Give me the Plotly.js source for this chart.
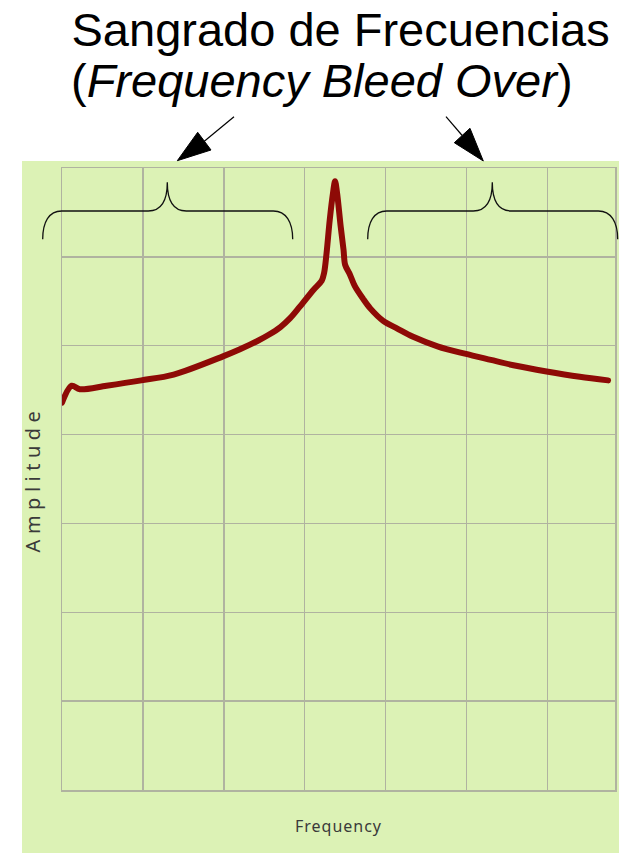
<!DOCTYPE html>
<html>
<head>
<meta charset="utf-8">
<script src="https://cdn.plot.ly/plotly-3.0.1.min.js"></script>
<style>
  html, body { margin: 0; padding: 0; background: #ffffff; }
  #chart { width: 637px; height: 853px; }
  .ytitle { letter-spacing: 5.5px; }
  .xtitle { letter-spacing: 1px; }
  .scatterlayer .js-line { stroke-linecap: round; stroke-linejoin: round; }
</style>
</head>
<body>
<div id="chart"></div>
<script>
// ---- data ----
const frequency = [0, 0.12, 0.22, 0.55, 0.98, 1.38, 1.99, 2.20, 2.41, 2.55, 2.70, 2.82, 2.94, 3.11, 3.21, 3.24, 3.27, 3.31, 3.35, 3.375, 3.40, 3.445, 3.48, 3.50, 3.56, 3.62, 3.72, 3.81, 3.97, 4.15, 4.34, 4.65, 4.98, 5.30, 5.58, 5.99, 6.40, 6.75];
const amplitude = [4.36, 4.55, 4.51, 4.55, 4.61, 4.675, 4.88, 4.96, 5.05, 5.12, 5.21, 5.31, 5.44, 5.63, 5.73, 5.82, 6.04, 6.42, 6.72, 6.85, 6.72, 6.34, 6.08, 5.91, 5.80, 5.67, 5.53, 5.42, 5.28, 5.19, 5.10, 4.99, 4.91, 4.84, 4.78, 4.71, 4.65, 4.61];

const titleLine1 = 'Sangrado de Frecuencias';
const titleLine2 = '(<i>Frequency Bleed Over</i>)';
const xTitle = 'Frequency';
const yTitle = 'Amplitude';

// ---- layout geometry (pixels) ----
const FIG_W = 637, FIG_H = 853;
const M = { l: 62, r: 22, t: 168, b: 63 };
const PW = FIG_W - M.l - M.r, PH = FIG_H - M.t - M.b;
const X_RANGE = [0, PW / 80.9];
const Y_RANGE = [0, 7];

// pixel -> paper helpers for decorations
const px = p => (p - M.l) / PW;
const py = p => (M.t + PH - p) / PH;
function path(cmds) {
  return cmds.map(c => {
    const op = c[0], pts = c.slice(1);
    const out = [];
    for (let i = 0; i < pts.length; i += 2) out.push(px(pts[i]).toFixed(5) + ',' + py(pts[i + 1]).toFixed(5));
    return op + out.join(' ');
  }).join(' ') ;
}
function brace(x0) {
  const d = x0 - 42.7;
  const X = v => v + d;
  return path([
    ['M', X(42.7), 239.3],
    ['C', X(42.7), 222, X(49), 211, X(61.7), 211],
    ['L', X(148.3), 211],
    ['C', X(160), 211, X(167.3), 203, X(167.3), 182.3],
    ['C', X(167.3), 203, X(174.6), 211, X(186.3), 211],
    ['L', X(273.3), 211],
    ['C', X(286), 211, X(292.7), 222, X(292.7), 239.3]
  ]);
}
const shapes = [
  // light green panel
  { type: 'rect', xref: 'paper', yref: 'paper', layer: 'below',
    x0: px(22), x1: px(619), y0: py(853), y1: py(161),
    fillcolor: '#dcf2b5', line: { width: 0 } },
  // braces
  { type: 'path', xref: 'paper', yref: 'paper', path: brace(42.7), line: { color: '#111111', width: 1.3 } },
  { type: 'path', xref: 'paper', yref: 'paper', path: brace(367.7), line: { color: '#111111', width: 1.3 } },
  // left arrow
  { type: 'line', xref: 'paper', yref: 'paper', x0: px(234), y0: py(116.7), x1: px(204.3), y1: py(141.2), line: { color: '#000000', width: 1.2 } },
  { type: 'path', xref: 'paper', yref: 'paper', path: path([['M', 177.3, 160.7], ['L', 197.7, 132.3], ['L', 211, 150]]) + ' Z', fillcolor: '#000000', line: { color: '#000000', width: 1 } },
  // right arrow
  { type: 'line', xref: 'paper', yref: 'paper', x0: px(446), y0: py(116.7), x1: px(462.2), y1: py(135.5), line: { color: '#000000', width: 1.2 } },
  { type: 'path', xref: 'paper', yref: 'paper', path: path([['M', 483.3, 161], ['L', 454.3, 142.7], ['L', 470, 128.3]]) + ' Z', fillcolor: '#000000', line: { color: '#000000', width: 1 } }
];

const gridColor = '#b0b3a0';
const axisFont = { family: 'Noto Sans, DejaVu Sans, sans-serif', color: '#3a3a3a' };

const trace = {
  x: frequency, y: amplitude, type: 'scatter', mode: 'lines',
  line: { color: '#8e0a06', width: 6, shape: 'spline', smoothing: 0.9 },
  hoverinfo: 'skip'
};

const layout = {
  width: FIG_W, height: FIG_H,
  margin: M,
  paper_bgcolor: '#ffffff',
  plot_bgcolor: 'rgba(0,0,0,0)',
  showlegend: false,
  title: {
    text: titleLine1,
    font: { family: 'Liberation Sans, Arial, sans-serif', size: 47, color: '#000000' },
    x: 71.5 / FIG_W, xanchor: 'left', xref: 'container',
    y: 1 - 13.1 / FIG_H, yanchor: 'top', yref: 'container'
  },
  annotations: [
    { text: titleLine2, xref: 'paper', yref: 'paper', x: px(69), y: py(52), xanchor: 'left', yanchor: 'top',
      showarrow: false, font: { family: 'Liberation Sans, Arial, sans-serif', size: 47, color: '#000000' } }
  ],
  xaxis: {
    range: X_RANGE, dtick: 1, tick0: 0, showticklabels: false, ticks: '',
    showgrid: true, gridcolor: gridColor, gridwidth: 1.5, zeroline: false,
    showline: true, linecolor: gridColor, linewidth: 1.5, mirror: true,
    title: { text: xTitle, font: Object.assign({ size: 16 }, axisFont), standoff: 30 },
    fixedrange: true
  },
  yaxis: {
    range: Y_RANGE, dtick: 1, tick0: 0, showticklabels: false, ticks: '',
    showgrid: true, gridcolor: gridColor, gridwidth: 1.5, zeroline: false,
    showline: true, linecolor: gridColor, linewidth: 1.5, mirror: true,
    title: { text: yTitle, font: Object.assign({ size: 20 }, axisFont), standoff: 14 },
    fixedrange: true
  },
  shapes: shapes
};

Plotly.newPlot('chart', [trace], layout, { displayModeBar: false, staticPlot: true });
</script>
</body>
</html>
